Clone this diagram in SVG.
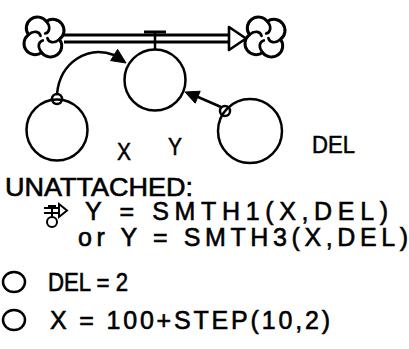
<svg xmlns="http://www.w3.org/2000/svg" width="409" height="349" viewBox="0 0 409 349">
<style>
.ln{fill:none;stroke:#000;stroke-width:2.5;stroke-linecap:round}
.cl{fill:#fff;stroke:#000;stroke-width:2.6;stroke-linecap:round;stroke-linejoin:round}
.cs{fill:none;stroke:#000;stroke-width:2.3;stroke-linecap:round}
.circ{fill:none;stroke:#000;stroke-width:2.5}
.ah{fill:#000;stroke:#000;stroke-width:1;stroke-linejoin:round}
.t{font-family:"Liberation Sans",Arial,sans-serif;font-size:24px;fill:#000;stroke:#000;stroke-width:0.5}
.tb{font-family:"Liberation Sans",Arial,sans-serif;font-size:25px;fill:#000;stroke:#000;stroke-width:0.6}
</style>
<defs>
<g id="cloud">
<path class="cl" d="M2,-13.5 A9.5 9.5 0 1 1 13.5,2 A9.5 9.5 0 1 1 -2,13.5 A9.5 9.5 0 1 1 -13.5,-2 A9.5 9.5 0 1 1 2,-13.5 Z"/>
<path class="cs" d="M2,-13.5 C6,-9 5,-4 1,-3 M13.5,2 C9,6 4,5 3,1 M-2,13.5 C-6,9 -5,4 -1,3 M-13.5,-2 C-9,-6 -4,-5 -3,-1"/>
</g>
</defs>
<g id="source"><use href="#cloud" transform="translate(44,37) scale(1.15)"/></g>
<g id="sink"><use href="#cloud" transform="translate(265,37) scale(1.15)"/></g>
<g id="flow">
<line x1="64" y1="35" x2="230" y2="35" stroke="#000" stroke-width="2.8"/>
<line x1="64" y1="42" x2="230" y2="42" stroke="#000" stroke-width="2.8"/>
<path d="M229,27 L246,38.5 L229,50 Z" fill="#fff" stroke="#000" stroke-width="2.6" stroke-linejoin="round"/>
<line x1="144" y1="32" x2="166" y2="32" stroke="#000" stroke-width="3"/>
<line x1="155" y1="32" x2="155" y2="50" stroke="#000" stroke-width="2.5"/>
</g>
<g id="Y"><circle class="circ" cx="155" cy="80" r="30.5"/></g>
<g id="X"><circle class="circ" cx="57" cy="130" r="30.5"/><circle class="circ" cx="57" cy="99" r="5"/></g>
<g id="DEL"><circle class="circ" cx="250" cy="131" r="32"/><circle class="circ" cx="225" cy="111" r="5"/></g>
<g id="connectors">
<path class="ln" d="M57,94 C60,62 88,45 114,55"/>
<path class="ah" d="M126,63 L110.6,60.6 L117.6,49.4 Z"/>
<path class="ln" d="M221,107 L198,97"/>
<path class="ah" d="M185,92 L200.2,91.2 L195.2,103.2 Z"/>
</g>
<g id="labels">
<text class="t" x="117" y="160" textLength="14" lengthAdjust="spacingAndGlyphs">X</text>
<text class="t" x="168" y="155" textLength="14" lengthAdjust="spacingAndGlyphs">Y</text>
<text class="t" x="312" y="153" textLength="43" lengthAdjust="spacingAndGlyphs">DEL</text>
</g>
<g id="unattached">
<text class="tb" x="5" y="196" textLength="188" lengthAdjust="spacingAndGlyphs">UNATTACHED:</text>
<g id="icon">
<line x1="44" y1="208" x2="60" y2="208" stroke="#000" stroke-width="2"/>
<line x1="44" y1="213" x2="60" y2="213" stroke="#000" stroke-width="2"/>
<path d="M59,204 L67,210.5 L59,217 Z" fill="#fff" stroke="#000" stroke-width="2"/>
<line x1="48" y1="206" x2="56" y2="206" stroke="#000" stroke-width="2"/>
<line x1="52" y1="206" x2="52" y2="217" stroke="#000" stroke-width="2"/>
<circle cx="52" cy="222" r="5" fill="none" stroke="#000" stroke-width="2"/>
</g>
<text class="tb" x="85" y="220" textLength="303" lengthAdjust="spacing">Y = SMTH1(X,DEL)</text>
<text class="tb" x="78" y="246" textLength="330" lengthAdjust="spacing">or  Y = SMTH3(X,DEL)</text>
<ellipse cx="14" cy="282" rx="11" ry="10" fill="none" stroke="#000" stroke-width="2.5"/>
<text class="tb" x="48" y="291" textLength="80" lengthAdjust="spacingAndGlyphs">DEL = 2</text>
<ellipse cx="14" cy="320" rx="11" ry="10" fill="none" stroke="#000" stroke-width="2.5"/>
<text class="tb" x="50" y="329" textLength="280" lengthAdjust="spacing">X = 100+STEP(10,2)</text>
</g>
</svg>
